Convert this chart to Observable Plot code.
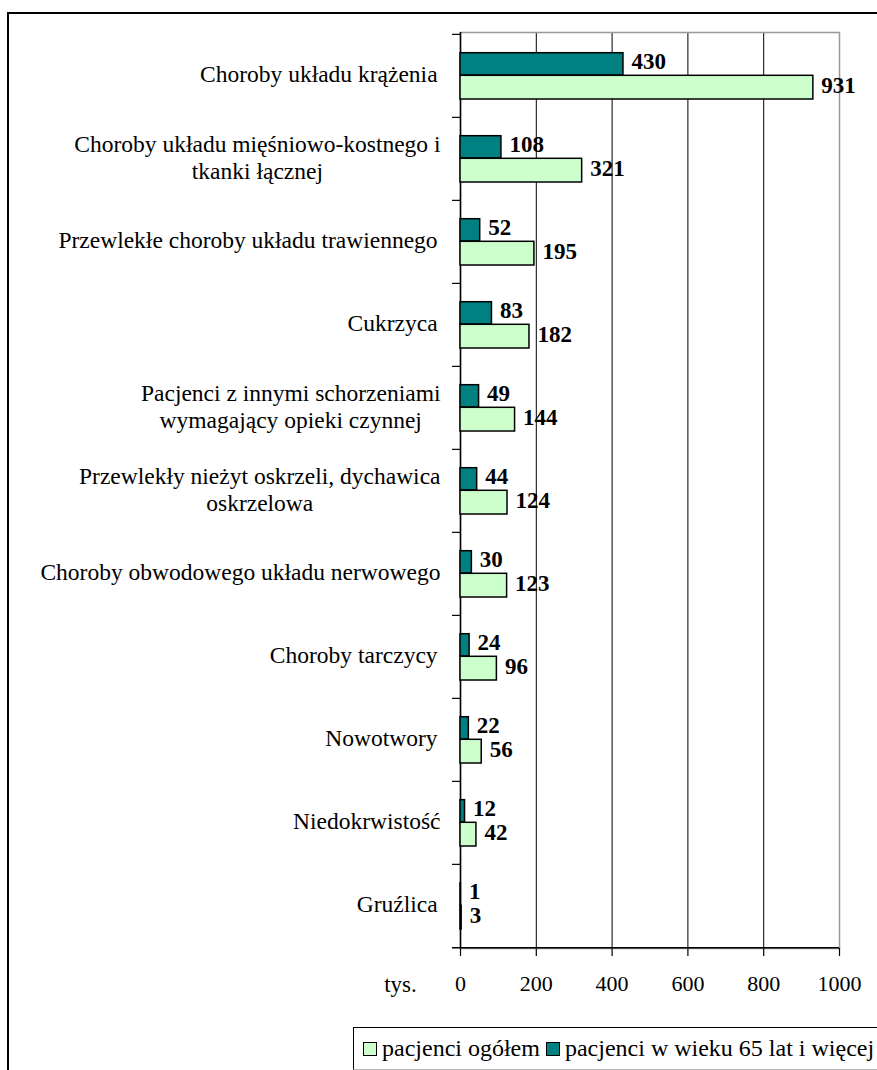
<!DOCTYPE html>
<html><head><meta charset="utf-8">
<script src="https://cdn.jsdelivr.net/npm/d3@7"></script>
<script src="https://cdn.jsdelivr.net/npm/@observablehq/plot@0.6"></script>
<style>
html,body{margin:0;padding:0;background:#fff;overflow:hidden;width:877px;height:1070px;position:relative;}
#frame{position:absolute;left:7px;top:12px;width:1000px;height:1200px;border:2px solid #000;box-sizing:border-box;}
#chart{position:absolute;left:0;top:0;}
#chart svg{font-family:'Liberation Serif','Times New Roman',serif;}
#legend{position:absolute;left:353px;top:1027px;width:600px;height:43px;border-top:1px solid #000;border-left:1px solid #000;border-bottom:1px solid #bbb;background:#fff;font:24px 'Liberation Serif','Times New Roman',serif;display:flex;align-items:center;padding-left:9px;box-sizing:border-box;white-space:nowrap;}
.sw{display:inline-block;width:12px;height:12px;border:1.5px solid #000;margin-right:5px;}
.item{display:flex;align-items:center;margin-right:6px;}
</style></head><body>
<div id="frame"></div>
<div id="chart"></div>
<div id="legend"></div>
<script>
const categories = [
  "Choroby układu krążenia ",
  "Choroby układu mięśniowo-kostnego i\ntkanki łącznej",
  "Przewlekłe choroby układu trawiennego ",
  "Cukrzyca ",
  "Pacjenci z innymi schorzeniami\nwymagający opieki czynnej ",
  "Przewlekły nieżyt oskrzeli, dychawica\noskrzelowa",
  "Choroby obwodowego układu nerwowego",
  "Choroby tarczycy ",
  "Nowotwory ",
  "Niedokrwistość",
  "Gruźlica "
];
const seriesNames = ["pacjenci ogółem", "pacjenci w wieku 65 lat i więcej"];
const ogolem = [931, 321, 195, 182, 144, 124, 123, 96, 56, 42, 3];
const wiek65 = [430, 108, 52, 83, 49, 44, 30, 24, 22, 12, 1];
const xTicks = [0, 200, 400, 600, 800, 1000];
const axisUnit = "tys.";
const colors = ["#CCFFCC", "#008080"];

const FONT = "'Liberation Serif','Times New Roman',serif";
const labelSize = 23.5;
const W = 877, H = 1010;
const mL = 460, mR = 38, mT = 32, mB = 62;
const bw = (H - mT - mB) / categories.length;

const ctx = document.createElement("canvas").getContext("2d");
ctx.font = `${labelSize}px 'Liberation Serif'`;
const rightEdge = 440;

const dOg = categories.map((c, i) => ({c, v: ogolem[i]}));
const d65 = categories.map((c, i) => ({c, v: wiek65[i]}));

const labelMarks = categories.map(c => {
  const lines = c.split("\n");
  const w = Math.max(...lines.map(l => ctx.measureText(l).width));
  const center = rightEdge - w / 2;
  const str = lines.map(l => l.trimEnd()).join("\n");
  return Plot.text([c], {
    y: d => d, frameAnchor: "left", text: () => str,
    textAnchor: "middle", lineAnchor: "middle", lineHeight: 1.18,
    dx: center - mL, dy: -2.5, fontSize: labelSize, fill: "#000"
  });
});

const chart = Plot.plot({
  width: W, height: H,
  marginLeft: mL, marginRight: mR, marginTop: mT, marginBottom: mB,
  style: {fontFamily: FONT, background: "transparent"},
  x: {domain: [0, 1000], axis: null},
  y: {type: "band", domain: categories, padding: 0, axis: null},
  marks: [
    Plot.gridX(xTicks.slice(1, -1), {stroke: "#000", strokeOpacity: 1, strokeWidth: 1}),
    Plot.frame({stroke: "#999", strokeWidth: 1.5}),
    Plot.ruleX([0], {stroke: "#000", strokeWidth: 1.5}),
    Plot.ruleY(categories, {y: d => d, dy: -bw / 2, x1: -21, x2: 0, stroke: "#000", strokeWidth: 1.2}),
    Plot.ruleY([categories[categories.length - 1]], {y: d => d, dy: bw / 2, x1: -21, x2: 1000, stroke: "#000", strokeWidth: 1.5}),
    Plot.axisX({ticks: xTicks, tickSize: 8, tickPadding: 19, fontSize: 22, tickFormat: d => String(d), label: null, stroke: "#000", strokeWidth: 1.2}),
    Plot.text([axisUnit], {frameAnchor: "bottom-left", dx: 400 - mL, dy: 36, textAnchor: "middle", lineAnchor: "middle", fontSize: 23}),
    Plot.barX(d65, {y: "c", x: "v", fill: colors[1], stroke: "#000", strokeWidth: 1.5, insetTop: 18.7, insetBottom: 42}),
    Plot.barX(dOg, {y: "c", x: "v", fill: colors[0], stroke: "#000", strokeWidth: 1.5, insetTop: 41.3, insetBottom: 18}),
    Plot.text(d65, {y: "c", x: "v", text: d => String(d.v), dx: 8, dy: -14.5, textAnchor: "start", fontWeight: "bold", fontSize: 23}),
    Plot.text(dOg, {y: "c", x: "v", text: d => String(d.v), dx: 8, dy: 9.5, textAnchor: "start", fontWeight: "bold", fontSize: 23}),
    ...labelMarks
  ]
});
document.getElementById("chart").appendChild(chart);

const legend = document.getElementById("legend");
seriesNames.forEach((name, i) => {
  const item = document.createElement("span");
  item.className = "item";
  const sw = document.createElement("span");
  sw.className = "sw";
  sw.style.background = colors[i];
  item.appendChild(sw);
  item.appendChild(document.createTextNode(name));
  legend.appendChild(item);
});
</script>
</body></html>
